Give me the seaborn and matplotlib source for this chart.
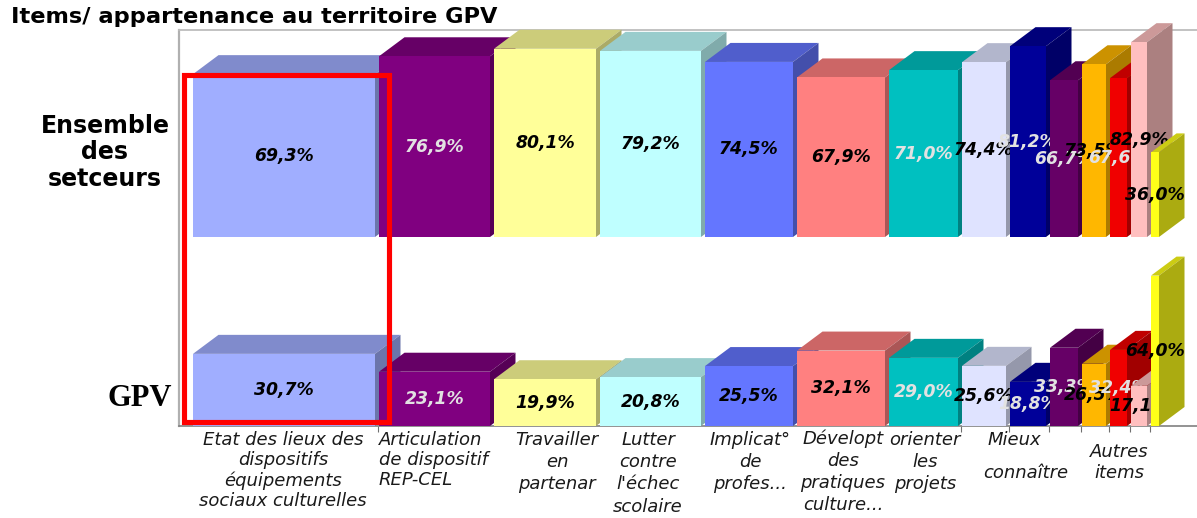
import matplotlib
matplotlib.use("Agg")
import matplotlib.pyplot as plt
from matplotlib.colors import to_rgb
from matplotlib.patches import Polygon, Rectangle
import numpy as np
import pandas as pd
import seaborn as sns

# ---- data ----
items = ["Etat", "Articulation", "Travailler", "Lutter", "Implicat", "Developt",
         "Orienter", "Mieux", "Connaitre", "Autre1", "Autre2", "Autre3", "Autre4", "Autre5"]
ensemble = [69.3, 76.9, 80.1, 79.2, 74.5, 67.9, 71.0, 74.4, 81.2, 66.7, 73.5, 67.6, 82.9, 36.0]
gpv = [30.7, 23.1, 19.9, 20.8, 25.5, 32.1, 29.0, 25.6, 18.8, 33.3, 26.5, 32.4, 17.1, 64.0]
shares = [186, 115, 106, 105, 92, 92, 73, 48, 40, 32, 28, 21, 20, 12]
colors = ["#A0AEFF", "#800080", "#FFFF99", "#BFFFFF", "#6476FF", "#FF8080", "#00C0C0",
          "#DFE3FF", "#000099", "#660066", "#FFB700", "#F00000", "#FFBFBF", "#FFFF19"]
label_colors = ["black", "#E2E2E2", "black", "black", "black", "black", "#E2E2E2",
                "black", "#E2E2E2", "#E2E2E2", "black", "#E2E2E2", "black", "black"]
title = "Items/ appartenance au territoire GPV"
row_names = ["Ensemble\ndes\nsetceurs", "GPV"]
# text, centre x px, first-line y px, line spacing, horizontal alignment
cat_labels = [
    ("Etat des lieux des\ndispositifs\néquipements\nsociaux culturelles", 283, 439, 1.16, "center"),
    ("Articulation\nde dispositif\nREP-CEL", 379, 439, 1.16, "left"),
    ("Travailler\nen\npartenar", 557, 439, 1.27, "center"),
    ("Lutter\ncontre\nl'échec\nscolaire", 648, 439, 1.30, "center"),
    ("Implicat°\nde\nprofes...", 750, 439, 1.30, "center"),
    ("Dévelopt\ndes\npratiques\nculture...", 843, 437, 1.30, "center"),
    ("orienter\nles\nprojets", 925, 439, 1.30, "center"),
    ("Mieux", 1014, 439, 1.2, "center"),
    ("connaître", 1026, 472, 1.2, "center"),
    ("Autres\nitems", 1119, 451, 1.21, "center"),
]
tick_slots = [1, 7, 8, 9, 10, 11, 12, 13]

# ---- layout ----
W, H = 1197, 518
AX_L, AX_R, AX_T, AX_B = 179, 1197, 30, 426
PX_PER_PCT = 2.35
X_ORIGIN = 193
UPPER_BASE = (AX_B - 237) / PX_PER_PCT
GAP = 4
DX = 25.5
DY = 19 / PX_PER_PCT

sns.set_theme(style="white")
plt.rcParams["font.family"] = ["DejaVu Sans"]

fig = plt.figure(figsize=(W / 100, H / 100), dpi=100, facecolor="white")
ax = fig.add_axes([AX_L / W, (H - AX_B) / H, (AX_R - AX_L) / W, (AX_B - AX_T) / H])

edges = np.concatenate([[0], np.cumsum(shares)]).astype(float)


def shade(col, f):
    return tuple(c * f for c in to_rgb(col))


def px_x(px):
    return px - X_ORIGIN


def px_y(py):
    return (AX_B - py) / PX_PER_PCT


rows = [(ensemble, UPPER_BASE), (gpv, 0.0)]
for values, base in rows:
    n_before = len(ax.containers)
    df = pd.DataFrame({"item": items, "value": values})
    sns.barplot(data=df, x="item", y="value", hue="item", order=items, hue_order=items,
                palette=colors, legend=False, errorbar=None, saturation=1, ax=ax)
    new = ax.containers[n_before:]
    for i, cont in enumerate(new):
        rect = cont[0]
        x0 = edges[i]
        x1 = edges[i + 1] - GAP
        y0, v = base, values[i]
        y1 = y0 + v
        z = 3 + 3 * i
        rect.set_x(x0)
        rect.set_width(x1 - x0)
        rect.set_y(y0)
        rect.set_height(v)
        rect.set_zorder(z + 1)
        rect.set_linewidth(0)
        ax.add_patch(Polygon([(x0, y1), (x1, y1), (x1 + DX, y1 + DY), (x0 + DX, y1 + DY)],
                             closed=True, fc=shade(colors[i], 0.8), ec="none", zorder=z, clip_on=False))
        ax.add_patch(Polygon([(x1, y0), (x1 + DX, y0 + DY), (x1 + DX, y1 + DY), (x1, y1)],
                             closed=True, fc=shade(colors[i], 0.67), ec="none", zorder=z, clip_on=False))
        ax.text((x0 + x1) / 2, y0 + v / 2, f"{v:.1f}%".replace(".", ","),
                ha="center", va="center", fontsize=12.4, fontweight="bold", fontstyle="italic",
                color=label_colors[i], zorder=z + 2, clip_on=False)

ax.set_xlim(px_x(AX_L), px_x(AX_R))
ax.set_ylim(0, (AX_B - AX_T) / PX_PER_PCT)
ax.set_xlabel("")
ax.set_ylabel("")
ax.set_yticks([])
ax.set_xticks(edges[tick_slots] - 1, labels=[""] * len(tick_slots))
ax.tick_params(axis="x", length=4, width=0.8, color="#707070", bottom=True, pad=0)
ax.patch.set_alpha(0)
for name, col, lw in [("left", "#B0B0B0", 1.6), ("top", "#BDBDBD", 1.3), ("bottom", "#808080", 1.2)]:
    ax.spines[name].set_visible(True)
    ax.spines[name].set_color(col)
    ax.spines[name].set_linewidth(lw)
ax.spines["right"].set_visible(False)

# highlight frame around the first category
ax.add_patch(Rectangle((px_x(184), px_y(421.5)), 204.5, 346.5 / PX_PER_PCT, fc="none", ec="#FF0000",
                       lw=3.7, zorder=100, clip_on=False, joinstyle="miter"))

# texts
fig.text(11 / W, 1 - 17 / H, title, ha="left", va="center", fontsize=16.2, fontweight="bold",
         color="black")
fig.text(105 / W, 1 - 114 / H, row_names[0], ha="center", va="top", fontsize=17, fontweight="bold",
         multialignment="center", linespacing=1.12, color="black")
fig.text(140 / W, 1 - 399 / H, row_names[1], ha="center", va="center", fontsize=22, fontweight="bold",
         family="Liberation Serif", color="black")
for text, x, y, ls, ha in cat_labels:
    fig.text(x / W, 1 - (y - 8) / H, text, ha=ha, va="top", fontsize=13, fontstyle="italic",
             multialignment=ha, linespacing=ls, color="#1A1A1A")

fig.savefig("out.png", dpi=100, facecolor="white")
